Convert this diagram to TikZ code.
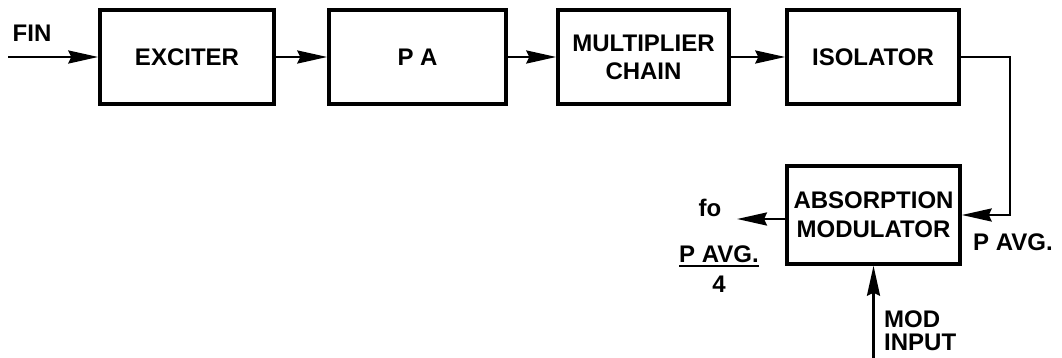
\documentclass[tikz,border=0pt]{standalone}
\usepackage{fontspec}
\setmainfont{Liberation Sans}
\usetikzlibrary{arrows.meta,calc}
\begin{document}
\begin{tikzpicture}[x=1pt,y=-1pt,
  every node/.style={font=\fontsize{24}{28}\selectfont\bfseries},
  blk/.style={draw, line width=3.5pt, minimum height=94pt, inner sep=0pt, align=center},
  arr/.style={line width=2.5pt, -{Stealth[length=30pt,width=13pt,inset=3pt]}},
  wire/.style={line width=2.5pt},
  lbl/.style={inner sep=0pt, anchor=base}]
\useasboundingbox (0,0) rectangle (1062,358);
\node[blk, minimum width=174pt] (exciter) at (187,57) {EXCITER};
\node[blk, minimum width=177pt] (pa) at (417.5,57) {P A};
\node[blk, minimum width=171pt] (mult) at (643.5,57) {MULTIPLIER\\CHAIN};
\node[blk, minimum width=172pt] (iso) at (873,57) {ISOLATOR};
\node[blk, minimum width=173pt, minimum height=98pt, font=\fontsize{24}{29}\selectfont\bfseries] (mod) at (873.5,215) {ABSORPTION\\MODULATOR};
% input
\node[lbl] (fin) at (32,41.5) {FIN};
\coordinate (finstart) at (8,57);
\draw[arr] (finstart) -- (exciter.west);
% chain
\draw[arr] (exciter.east) -- (pa.west);
\draw[arr] (pa.east) -- (mult.west);
\draw[arr] (mult.east) -- (iso.west);
\draw[arr] (iso.east) -- ++(49,0) |- (mod.east);
% output
\coordinate (fo) at (737,219);
\draw[arr] (mod.west |- fo) -- (fo);
\node[lbl] (folbl) at (710,216) {fo};
\node[lbl] (pavgl) at (719,262) {P AVG.};
\draw[wire] ($(pavgl.base west)+(0,4)$) -- ($(pavgl.base east)+(0,4)$);
\node[lbl] (four) at (719,292) {4};
\node[lbl, anchor=base west] (pavgr) at (973,250) {P AVG.};
% modulation input
\coordinate (modin) at (873.5,358);
\draw[arr] (modin) -- (mod.south);
\node[inner sep=0pt, anchor=north west, align=left, font=\fontsize{24}{23}\selectfont\bfseries] (modlbl) at (884,311) {MOD\\INPUT};
\end{tikzpicture}
\end{document}
